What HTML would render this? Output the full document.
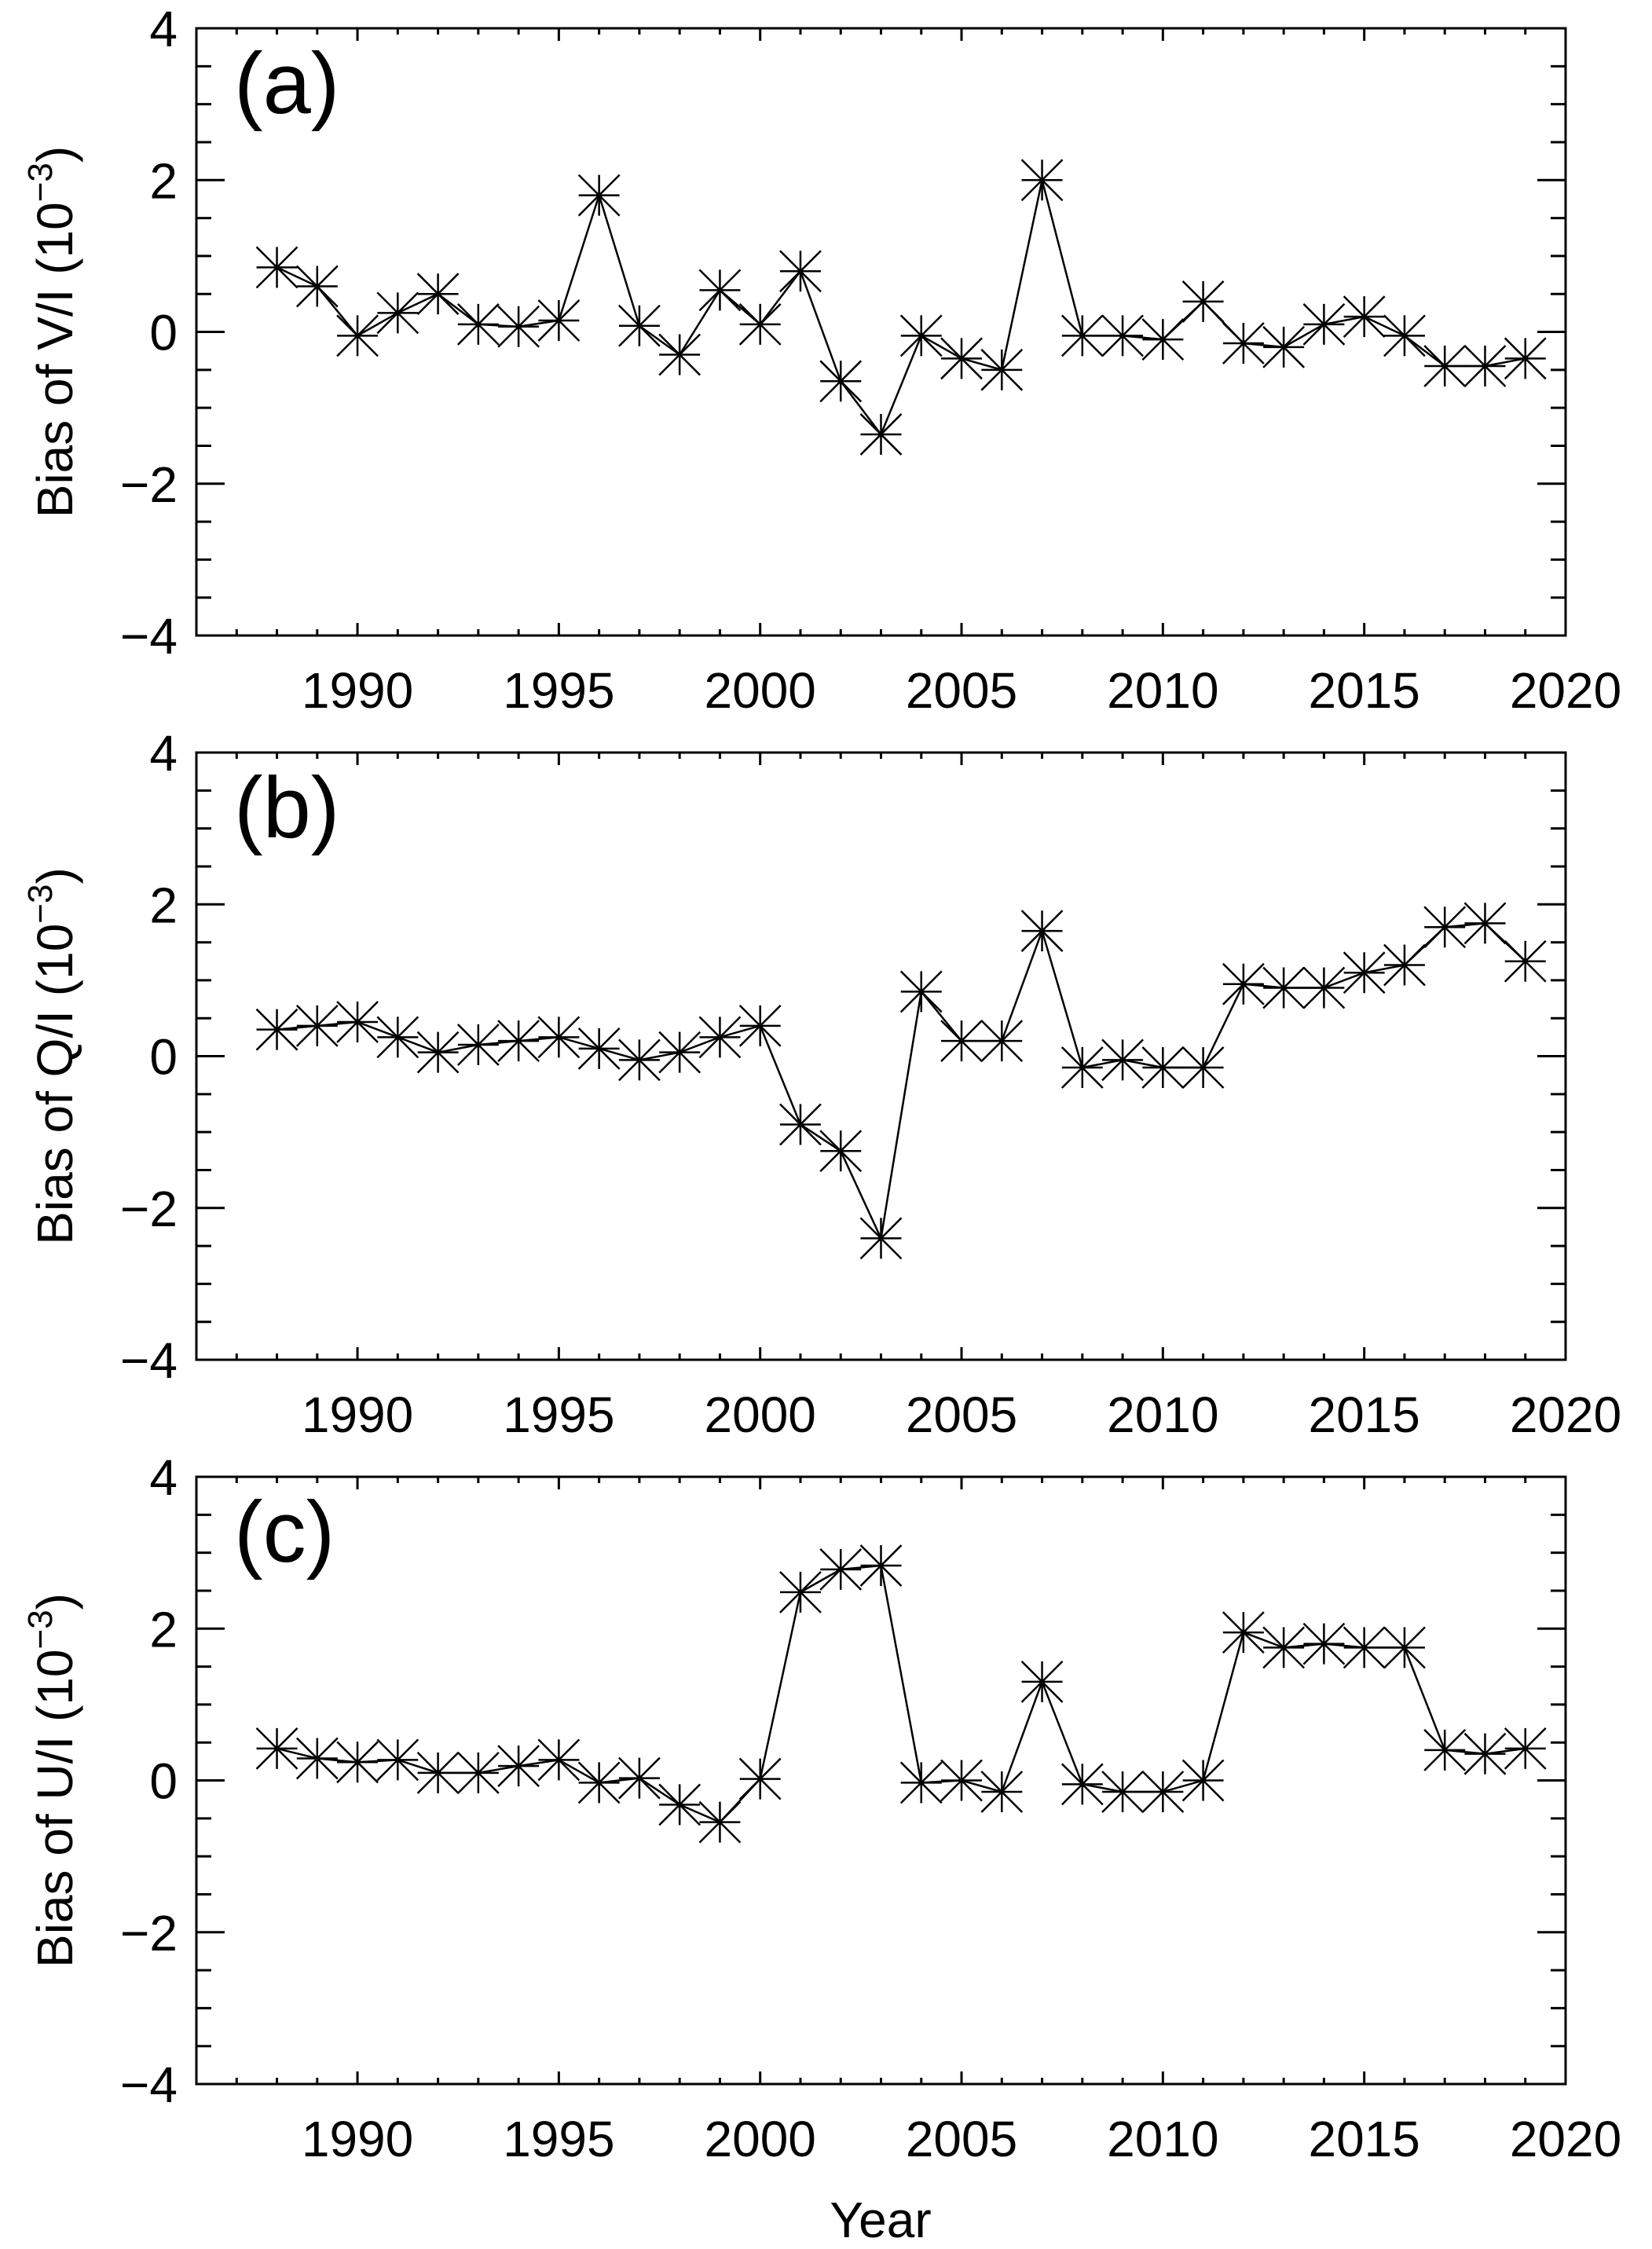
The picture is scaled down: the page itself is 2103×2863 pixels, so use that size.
<!DOCTYPE html>
<html><head><meta charset="utf-8"><style>
html,body{margin:0;padding:0;background:#fff;}
svg{display:block;}
text{font-family:"Liberation Sans",sans-serif;fill:#000;}
</style></head><body>
<svg id="chart" width="2103" height="2863" viewBox="0 0 2103 2863" xmlns="http://www.w3.org/2000/svg"></svg>
<script>
const years = [1988,1989,1990,1991,1992,1993,1994,1995,1996,1997,1998,1999,2000,2001,2002,2003,2004,2005,2006,2007,2008,2009,2010,2011,2012,2013,2014,2015,2016,2017,2018,2019];
const biasV = [0.85,0.6,-0.05,0.25,0.5,0.1,0.07,0.15,1.8,0.08,-0.3,0.55,0.1,0.8,-0.65,-1.35,-0.05,-0.35,-0.5,2.0,-0.05,-0.05,-0.1,0.4,-0.15,-0.2,0.1,0.2,-0.05,-0.45,-0.45,-0.35];
const biasQ = [0.35,0.4,0.45,0.25,0.05,0.15,0.2,0.25,0.1,-0.05,0.05,0.25,0.4,-0.9,-1.25,-2.4,0.85,0.2,0.2,1.65,-0.15,-0.05,-0.15,-0.15,0.95,0.9,0.9,1.1,1.2,1.7,1.75,1.25];
const biasU = [0.42,0.29,0.24,0.27,0.1,0.1,0.19,0.27,-0.03,0.03,-0.32,-0.55,0.02,2.48,2.78,2.83,-0.03,0.0,-0.15,1.3,-0.05,-0.15,-0.15,0.0,1.95,1.75,1.8,1.75,1.75,0.4,0.35,0.42];
const xTickLabels = ["1990","1995","2000","2005","2010","2015","2020"];
const yTickLabels = ["\u22124","\u22122","0","2","4"];
const panelLabels = ["(a)","(b)","(c)"];
const yTitles = ["V/I","Q/I","U/I"];

const NS="http://www.w3.org/2000/svg";
const svg=document.getElementById('chart');
function mk(tag,attrs,parent){const e=document.createElementNS(NS,tag);for(const k in attrs)e.setAttribute(k,attrs[k]);(parent||svg).appendChild(e);return e;}

const L=250,R=1993,PH=773,tops=[36,958,1880];
const X0=1986,X1=2020,Y0=-4,Y1=4;
const sx=v=>L+(v-X0)/(X1-X0)*(R-L);
const series=[biasV,biasQ,biasU];
const FS=64;

tops.forEach((T,p)=>{
  const B=T+PH;
  const sy=v=>B-(v-Y0)/(Y1-Y0)*PH;
  const g=mk('g',{});
  
  
  const frame=mk('rect',{x:L,y:T,width:R-L,height:PH,fill:'none',stroke:'#000','stroke-width':3},g);
  
  
  for(let yr=1987;yr<=2019;yr++){
    const major=yr%5===0, len=major?16:8, x=sx(yr);
    mk('line',{x1:x,y1:B,x2:x,y2:B-len,stroke:'#000','stroke-width':3},g);
    mk('line',{x1:x,y1:T,x2:x,y2:T+len,stroke:'#000','stroke-width':3},g);
  }
  xTickLabels.forEach(s=>{
    const t=mk('text',{x:sx(+s),y:B+92,'font-size':FS,'text-anchor':'middle'},g);
    t.textContent=s;
    
    
  });
  for(let k=0;k<=16;k++){
    const v=Y0+k*0.5, major=(k%4===0), len=major?36:19, y=sy(v);
    mk('line',{x1:L,y1:y,x2:L+len,y2:y,stroke:'#000','stroke-width':3},g);
    mk('line',{x1:R,y1:y,x2:R-len,y2:y,stroke:'#000','stroke-width':3},g);
  }
  yTickLabels.forEach(s=>{
    const v=parseFloat(s.replace('\u2212','-'));
    const t=mk('text',{x:226,y:sy(v)+23,'font-size':FS,'text-anchor':'end'},g);
    t.textContent=s;
    
    
  });
  const yt=mk('text',{x:0,y:0,'font-size':FS,'text-anchor':'middle',transform:`translate(92,${T+PH/2}) rotate(-90)`},g);
  
  
  yt.appendChild(document.createTextNode('Bias of '+yTitles[p]+' (10'));
  const sup=mk('tspan',{dy:-26,'font-size':44},yt);sup.textContent='\u22123';
  const cl=mk('tspan',{dy:26},yt);cl.textContent=')';
  const pl=mk('text',{x:298,y:T+108,'font-size':110},g);
  pl.textContent=panelLabels[p];
  
  
  const vals=series[p];
  const pts=years.map((yr,i)=>sx(yr)+','+sy(vals[i])).join(' ');
  const ln=mk('polyline',{points:pts,fill:'none',stroke:'#000','stroke-width':2.5},g);
  
  
  years.forEach((yr,i)=>{
    const x=sx(yr),y=sy(vals[i]),r=26;
    const m=mk('path',{d:`M${x-r},${y-r}L${x+r},${y+r}M${x-r},${y+r}L${x+r},${y-r}M${x},${y-r}L${x},${y+r}M${x-r},${y}L${x+r},${y}`,stroke:'#000','stroke-width':2.5,fill:'none'},g);
    
    
  });
});
const xt=mk('text',{x:1121,y:2848,'font-size':FS,'text-anchor':'middle'});
xt.textContent='Year';


</script>
</body></html>
